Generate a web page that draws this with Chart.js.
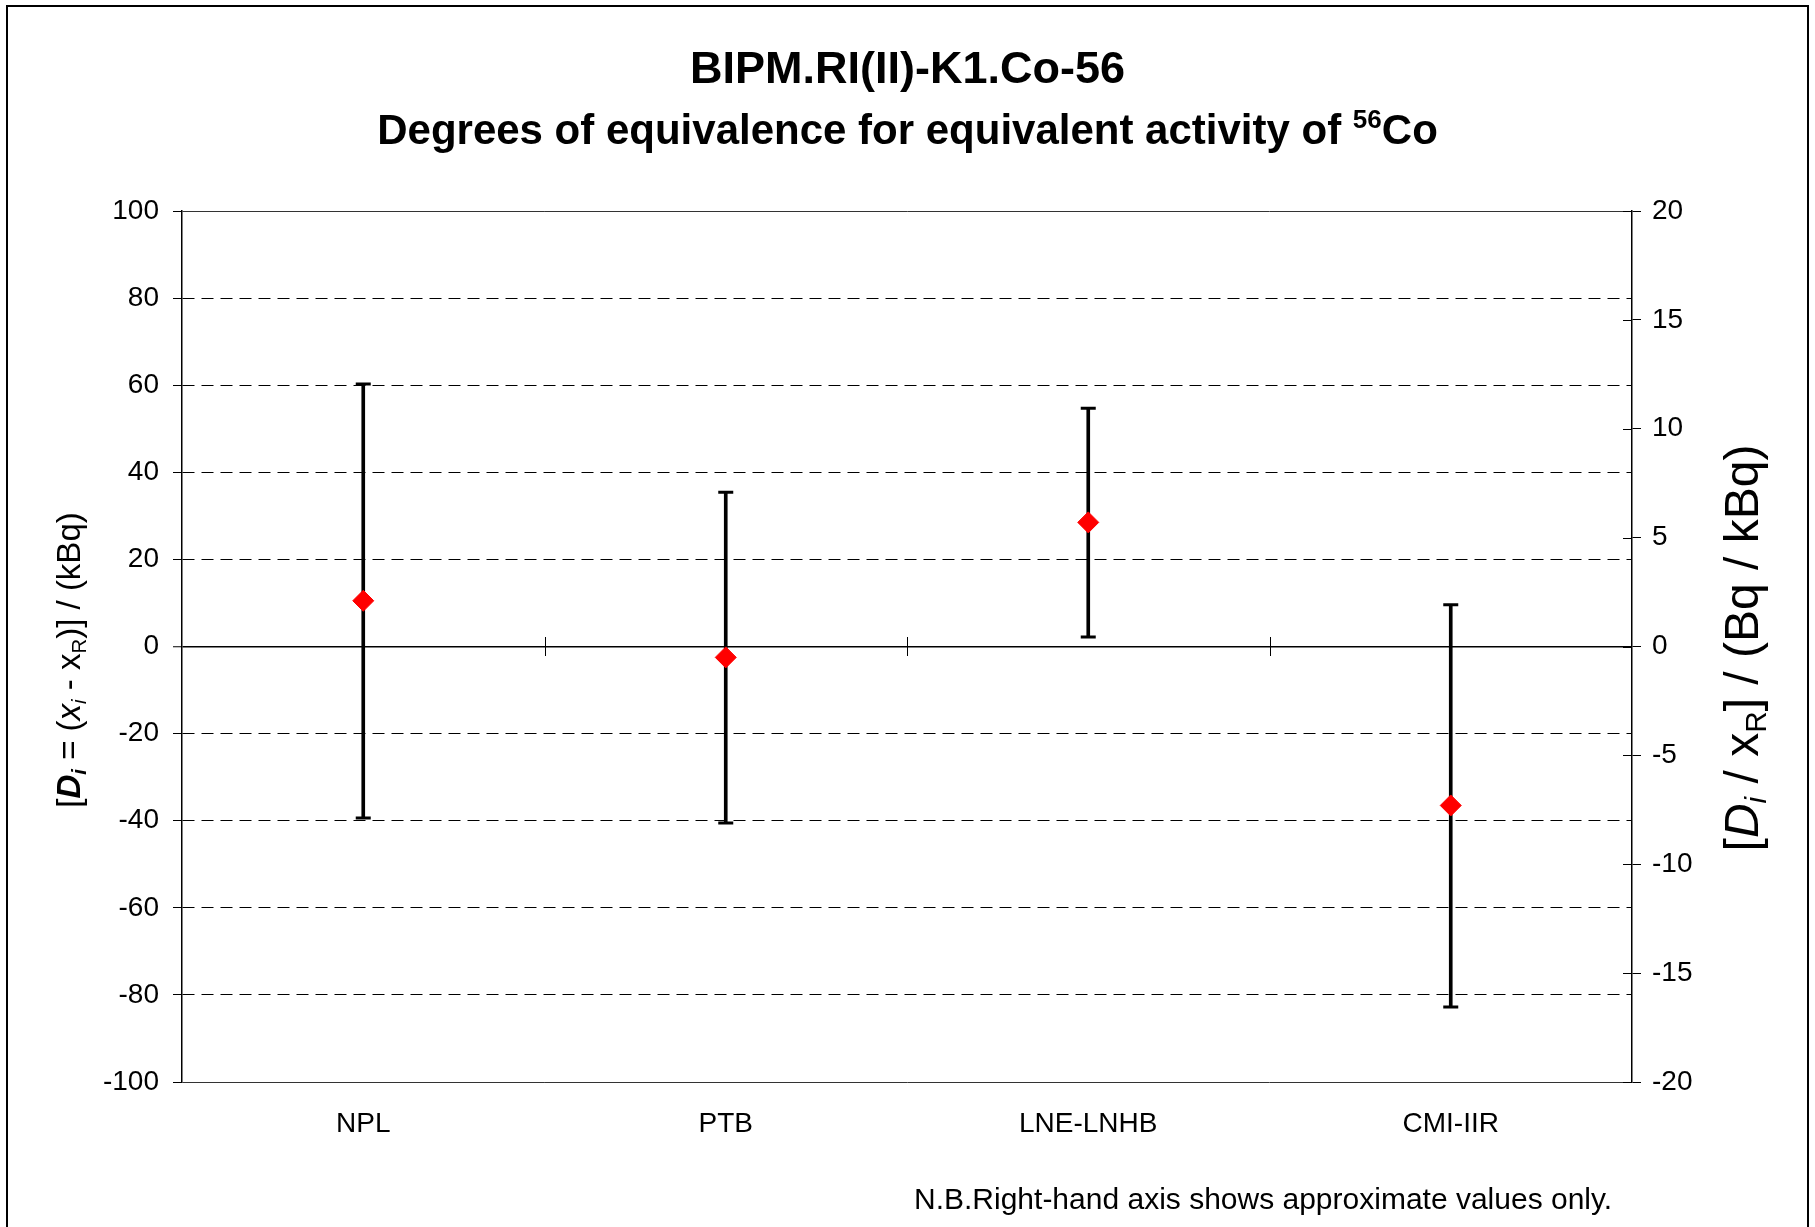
<!DOCTYPE html>
<html>
<head>
<meta charset="utf-8">
<script src="https://cdn.jsdelivr.net/npm/chart.js@4.4.1/dist/chart.umd.min.js"></script>
<style>
html,body{margin:0;padding:0;background:#fff;}
#wrap{position:relative;width:1815px;height:1227px;overflow:hidden;font-family:"Liberation Sans",Arial,sans-serif;color:#000;background:#fff;}
#frame{position:absolute;left:6px;top:5px;width:1803px;height:1300px;border:2px solid #000;box-sizing:border-box;pointer-events:none;}
#c{position:absolute;left:0;top:0;}
.t{position:absolute;white-space:nowrap;line-height:1;}
.title1{left:0;width:1815px;text-align:center;top:45px;font-size:45px;font-weight:bold;}
.title2{left:0;width:1815px;text-align:center;top:109px;font-size:42px;font-weight:bold;}
.rot{transform:translate(-50%,-50%) rotate(-90deg);}
.sub{font-size:0.62em;position:relative;top:0.28em;}
.sup{font-size:0.62em;position:relative;top:-0.62em;}
.ylab{left:68px;top:660px;font-size:33px;}
.y2lab{left:1742px;top:648px;font-size:48px;}
.note{left:914px;top:1184px;font-size:30px;}
</style>
</head>
<body>
<div id="wrap">
  <canvas id="c" width="1815" height="1227"></canvas>
  <div id="frame"></div>
  <div class="t title1">BIPM.RI(II)-K1.Co-56</div>
  <div class="t title2">Degrees of equivalence for equivalent activity of <span class="sup">56</span>Co</div>
  <div class="t rot ylab">[<b><i>D</i></b><span class="sub"><b><i>i</i></b></span> = (<i>x</i><span class="sub"><i>i</i></span> - x<span class="sub">R</span>)] / (kBq)</div>
  <div class="t rot y2lab">[<i>D</i><span class="sub"><i>i</i></span> / x<span class="sub">R</span>] / (Bq / kBq)</div>
  <div class="t note">N.B.Right-hand axis shows approximate values only.</div>
</div>
<script>
// ---- data ----
const categories = ['NPL', 'PTB', 'LNE-LNHB', 'CMI-IIR'];
const degreesOfEquivalence = [10.5, -2.5, 28.5, -36.5];   // D_i / kBq
const upperLimits = [60.3, 35.4, 54.7, 9.6];               // D_i + U_i
const lowerLimits = [-39.4, -40.5, 2.2, -82.8];            // D_i - U_i
const leftAxisTicks = [-100, -80, -60, -40, -20, 0, 20, 40, 60, 80, 100];
const rightAxisTicks = [-20, -15, -10, -5, 0, 5, 10, 15, 20];

const FONT = '"Liberation Sans", Arial, sans-serif';
Chart.defaults.font.family = FONT;
Chart.defaults.color = '#000';

const errorRanges = categories.map((c, i) => [lowerLimits[i], upperLimits[i]]);

const extraTicks = {
  id: 'extraTicks',
  beforeDatasetsDraw(chart) {
    const {ctx, scales: {x, y, y2}} = chart;
    ctx.save();
    ctx.strokeStyle = '#000';
    ctx.lineWidth = 1;
    ctx.beginPath();
    const y0 = y.getPixelForValue(0);
    const half = (x.getPixelForTick(1) - x.getPixelForTick(0)) / 2;
    for (let i = 0; i < categories.length - 1; i++) {
      const px = Math.round(x.getPixelForTick(i) + half) + 0.5;
      ctx.moveTo(px, y0 - 9.5);
      ctx.lineTo(px, y0 + 9.5);
    }
    y2.ticks.forEach(t => {
      const py = Math.round(y2.getPixelForValue(t.value)) + 0.5;
      ctx.moveTo(y2.left - 9, py);
      ctx.lineTo(y2.left, py);
    });
    ctx.stroke();
    ctx.restore();
  }
};

new Chart(document.getElementById('c'), {
  type: 'bar',
  data: {
    labels: categories,
    datasets: [
      {
        type: 'line',
        label: 'D_i',
        data: degreesOfEquivalence,
        showLine: false,
        pointStyle: 'rectRot',
        pointRadius: 10.5,
        pointBackgroundColor: '#ff0000',
        pointBorderColor: '#ff0000',
        pointBorderWidth: 1,
        order: 1
      },
      {
        type: 'line',
        label: 'upper',
        data: upperLimits,
        showLine: false,
        pointStyle: 'line',
        pointRadius: 7.5,
        pointBorderColor: '#000',
        pointBorderWidth: 3,
        order: 2
      },
      {
        type: 'line',
        label: 'lower',
        data: lowerLimits,
        showLine: false,
        pointStyle: 'line',
        pointRadius: 7.5,
        pointBorderColor: '#000',
        pointBorderWidth: 3,
        order: 2
      },
      {
        type: 'bar',
        label: 'U_i',
        data: errorRanges,
        backgroundColor: '#000',
        borderWidth: 0,
        barThickness: 3,
        grouped: false,
        order: 3
      }
    ]
  },
  options: {
    responsive: false,
    animation: false,
    devicePixelRatio: 1,
    layout: {padding: {top: 211, left: 0, right: 0, bottom: 0}},
    plugins: {legend: {display: false}, tooltip: {enabled: false}, title: {display: false}},
    scales: {
      x: {
        type: 'category',
        offset: true,
        grid: {display: false, drawTicks: false},
        border: {display: false},
        ticks: {font: {size: 28, family: FONT}, color: '#000', padding: 25, maxRotation: 0, autoSkip: false},
        afterFit: s => { s.height = 145; }
      },
      y: {
        position: 'left',
        min: leftAxisTicks[0],
        max: leftAxisTicks[leftAxisTicks.length - 1],
        ticks: {stepSize: leftAxisTicks[1] - leftAxisTicks[0], font: {size: 28, family: FONT}, color: '#000', padding: 14},
        grid: {
          color: c => (c.tick && Math.abs(c.tick.value) === 100) ? '#333' : '#000',
          lineWidth: c => (c.tick && c.tick.value === 0) ? 1.5 : 1,
          tickLength: 9,
          tickColor: '#000',
          tickWidth: 1,
          tickBorderDash: []
        },
        border: {
          display: true, color: '#000', width: 1.5,
          dash: c => (c.tick && c.tick.value !== 0 && Math.abs(c.tick.value) !== 100) ? [12, 7] : []
        },
        afterFit: s => { s.width = 182; }
      },
      y2: {
        position: 'right',
        min: rightAxisTicks[0],
        max: rightAxisTicks[rightAxisTicks.length - 1],
        ticks: {stepSize: rightAxisTicks[1] - rightAxisTicks[0], font: {size: 28, family: FONT}, color: '#000', padding: 11},
        grid: {drawOnChartArea: false, tickLength: 9, tickColor: '#000', tickWidth: 1},
        border: {display: true, color: '#000', width: 1.5},
        afterFit: s => { s.width = 183; }
      }
    }
  },
  plugins: [extraTicks]
});
</script>
</body>
</html>
